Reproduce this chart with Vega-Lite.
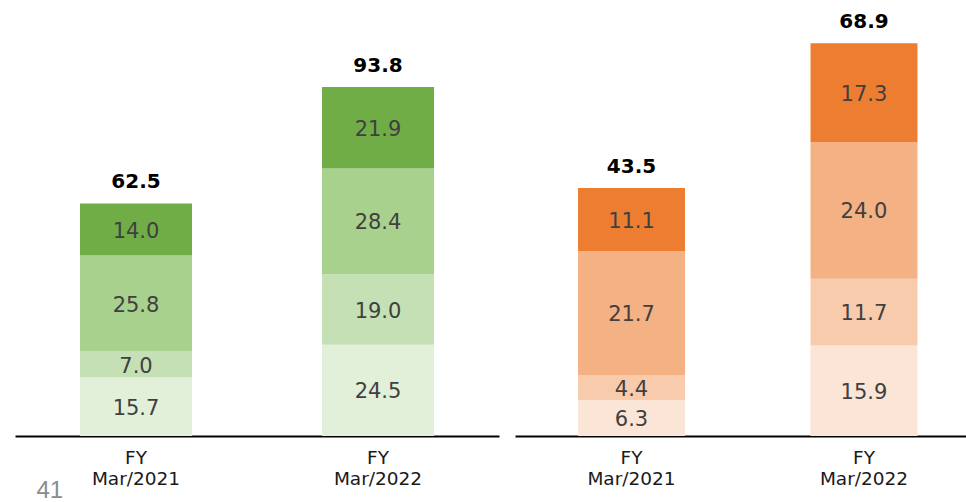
{
  "$schema": "https://vega.github.io/schema/vega-lite/v6.json",
  "padding": {"left": 15, "top": 0, "right": 0, "bottom": 0},
  "autosize": {"type": "pad"},
  "spacing": 16,
  "config": {"view": {"stroke": null}, "font": "DejaVu Sans"},
  "datasets": {
    "green": [
      {"period": "FY|Mar/2021", "order": 1, "value": 15.7},
      {"period": "FY|Mar/2021", "order": 2, "value": 7.0},
      {"period": "FY|Mar/2021", "order": 3, "value": 25.8},
      {"period": "FY|Mar/2021", "order": 4, "value": 14.0},
      {"period": "FY|Mar/2022", "order": 1, "value": 24.5},
      {"period": "FY|Mar/2022", "order": 2, "value": 19.0},
      {"period": "FY|Mar/2022", "order": 3, "value": 28.4},
      {"period": "FY|Mar/2022", "order": 4, "value": 21.9}
    ],
    "greenTotal": [
      {"period": "FY|Mar/2021", "total": 62.5},
      {"period": "FY|Mar/2022", "total": 93.8}
    ],
    "orange": [
      {"period": "FY|Mar/2021", "order": 1, "value": 6.3},
      {"period": "FY|Mar/2021", "order": 2, "value": 4.4},
      {"period": "FY|Mar/2021", "order": 3, "value": 21.7},
      {"period": "FY|Mar/2021", "order": 4, "value": 11.1},
      {"period": "FY|Mar/2022", "order": 1, "value": 15.9},
      {"period": "FY|Mar/2022", "order": 2, "value": 11.7},
      {"period": "FY|Mar/2022", "order": 3, "value": 24.0},
      {"period": "FY|Mar/2022", "order": 4, "value": 17.3}
    ],
    "orangeTotal": [
      {"period": "FY|Mar/2021", "total": 43.5},
      {"period": "FY|Mar/2022", "total": 68.9}
    ]
  },
  "hconcat": [
    {
      "width": 484,
      "height": 436,
      "encoding": {
        "x": {
          "field": "period", "type": "nominal", "sort": null,
          "scale": {"paddingInner": 0.537, "paddingOuter": 0.2685},
          "axis": {
            "title": "41", "labelExpr": "split(datum.label, '|')", "labelAngle": 0,
            "labelFontSize": 18.5, "labelLineHeight": 21, "labelColor": "#1a1a1a",
            "ticks": false, "domainColor": "#000000", "domainWidth": 2, "labelPadding": 12,
            "titleAnchor": "start", "titleAlign": "left", "titleFontSize": 24, "titleFont": "Liberation Sans",
            "titleColor": "#8c8c8c", "titleFontWeight": "normal", "titleX": 21, "titleY": 66, "titleBaseline": "bottom"
          }
        }
      },
      "layer": [
        {
          "data": {"name": "green"},
          "transform": [
            {"stack": "value", "groupby": ["period"], "sort": [{"field": "order", "order": "ascending"}], "as": ["v0", "v1"]},
            {"calculate": "(datum.v0 + datum.v1) / 2", "as": "mid"}
          ],
          "layer": [
            {
              "mark": {"type": "bar"},
              "encoding": {
                "y": {"field": "v0", "type": "quantitative", "scale": {"domain": [0, 117.2], "nice": false}, "axis": null},
                "y2": {"field": "v1"},
                "color": {"field": "order", "type": "ordinal", "scale": {"domain": [1, 2, 3, 4], "range": ["#E2F0D9", "#C5E0B4", "#A9D18E", "#70AD47"]}, "legend": null}
              }
            },
            {
              "mark": {"type": "text", "fontSize": 21, "color": "#404040", "baseline": "middle", "dy": 2},
              "encoding": {
                "y": {"field": "mid", "type": "quantitative"},
                "text": {"field": "value", "type": "quantitative", "format": ".1f"}
              }
            }
          ]
        },
        {
          "data": {"name": "greenTotal"},
          "mark": {"type": "text", "fontSize": 20, "fontWeight": "bold", "color": "#000000", "baseline": "alphabetic", "dy": -15},
          "encoding": {
            "y": {"field": "total", "type": "quantitative"},
            "text": {"field": "total", "type": "quantitative", "format": ".1f"}
          }
        }
      ]
    },
    {
      "width": 451,
      "height": 436,
      "encoding": {
        "x": {
          "field": "period", "type": "nominal", "sort": null,
          "scale": {"paddingInner": 0.54, "paddingOuter": 0.24, "align": 0.565},
          "axis": {
            "title": null, "labelExpr": "split(datum.label, '|')", "labelAngle": 0,
            "labelFontSize": 18.5, "labelLineHeight": 21, "labelColor": "#1a1a1a",
            "ticks": false, "domainColor": "#000000", "domainWidth": 2, "labelPadding": 12
          }
        }
      },
      "layer": [
        {
          "data": {"name": "orange"},
          "transform": [
            {"stack": "value", "groupby": ["period"], "sort": [{"field": "order", "order": "ascending"}], "as": ["v0", "v1"]},
            {"calculate": "(datum.v0 + datum.v1) / 2", "as": "mid"}
          ],
          "layer": [
            {
              "mark": {"type": "bar"},
              "encoding": {
                "y": {"field": "v0", "type": "quantitative", "scale": {"domain": [0, 76.5], "nice": false}, "axis": null},
                "y2": {"field": "v1"},
                "color": {"field": "order", "type": "ordinal", "scale": {"domain": [1, 2, 3, 4], "range": ["#FBE5D6", "#F8CBAD", "#F4B183", "#ED7D31"]}, "legend": null}
              }
            },
            {
              "mark": {"type": "text", "fontSize": 21, "color": "#404040", "baseline": "middle", "dy": 2},
              "encoding": {
                "y": {"field": "mid", "type": "quantitative"},
                "text": {"field": "value", "type": "quantitative", "format": ".1f"}
              }
            }
          ]
        },
        {
          "data": {"name": "orangeTotal"},
          "mark": {"type": "text", "fontSize": 20, "fontWeight": "bold", "color": "#000000", "baseline": "alphabetic", "dy": -15},
          "encoding": {
            "y": {"field": "total", "type": "quantitative"},
            "text": {"field": "total", "type": "quantitative", "format": ".1f"}
          }
        }
      ]
    }
  ],
  "resolve": {"scale": {"color": "independent"}}
}
